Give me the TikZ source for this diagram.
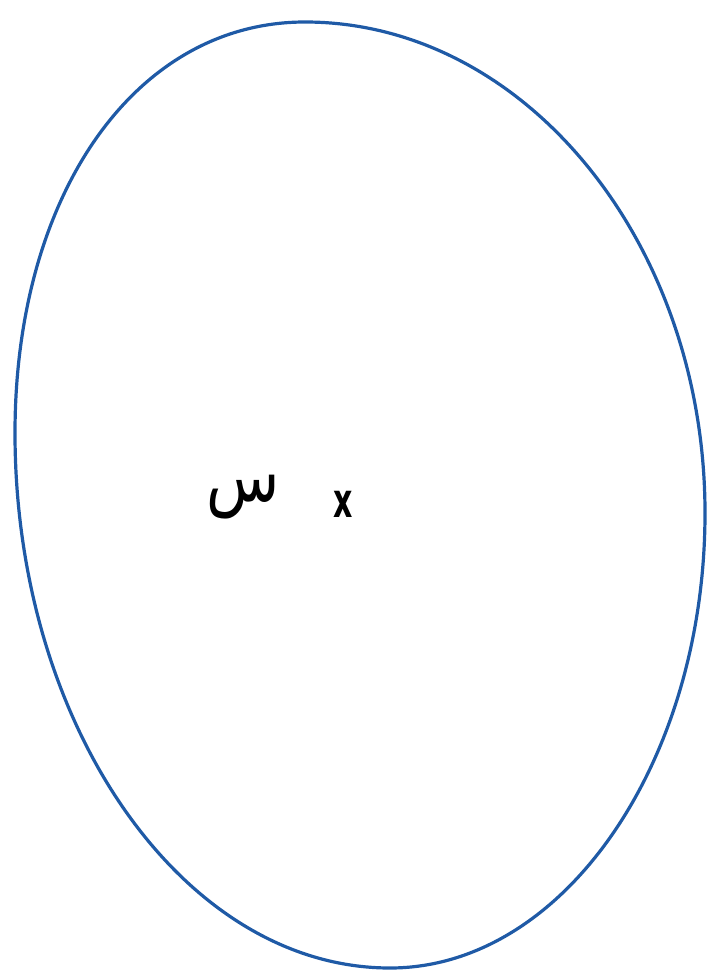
\documentclass[tikz,border=0pt]{standalone}
\usepackage{fontspec}
\setmainfont{DejaVu Sans}
\newfontfamily\arabicfont[Script=Arabic]{DejaVu Sans}
\TeXXeTstate=1
\usepackage{tikz}
\usetikzlibrary{positioning}
\definecolor{SetBlue}{HTML}{1F5AA6}

\begin{document}
\begin{tikzpicture}[
    x=0.5pt, y=-0.5pt,
    setring/.style={draw=SetBlue, line width=1.6pt},
    setname/.style={font=\arabicfont\fontsize{30}{34}\selectfont, inner sep=0pt, yscale=1.2},
    member/.style={font=\bfseries\fontsize{15}{18}\selectfont, inner sep=0pt, yscale=1.6}
]
  \useasboundingbox (0,0) rectangle (717,974);

  % the set (hand drawn oval)
  \draw[setring] (15,433) .. controls (15,195) and (135,22) .. (305,22)
    .. controls (525,22) and (705,243) .. (705,513)
    .. controls (705,763) and (563,968) .. (390,968)
    .. controls (184,968) and (15,727) .. cycle;

  % name and element
  \node[setname] (seen) at (243,497) {\beginR س\endR};
  \node[member] (ex) at (343,504) {x};
\end{tikzpicture}
\end{document}
